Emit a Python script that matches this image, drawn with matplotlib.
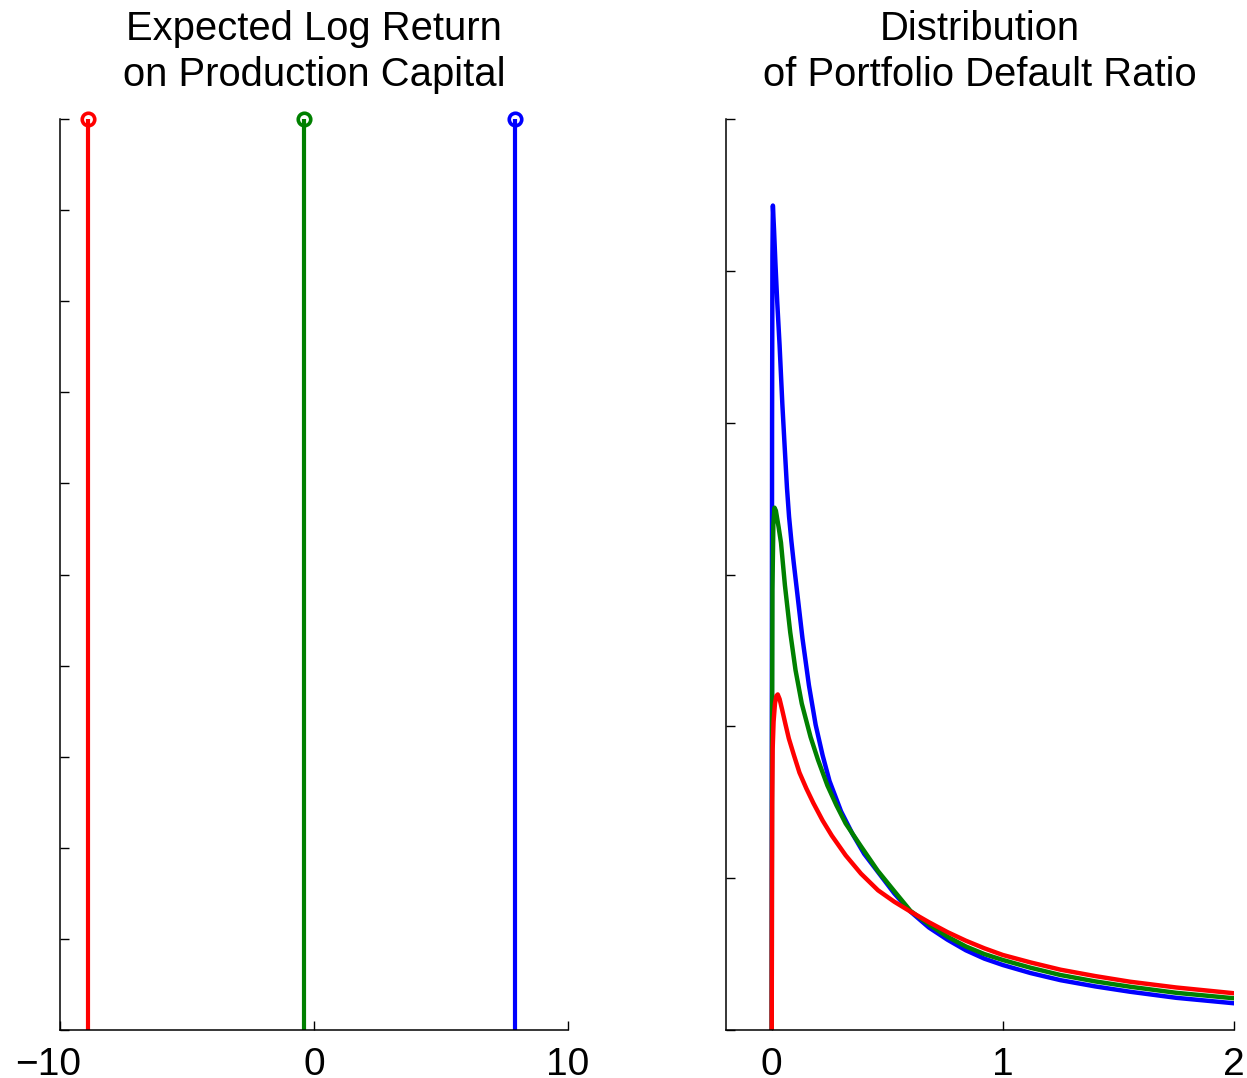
import matplotlib
matplotlib.use("Agg")
import matplotlib.pyplot as plt
from matplotlib.transforms import ScaledTranslation

plt.rcParams['font.family'] = ['Liberation Sans', 'DejaVu Sans']

# Left panel: expected log return per scenario (stem positions)
stem_x = [-8.88, -0.40, 7.92]
stem_h = [1.0, 1.0, 1.0]
colors = ['#ff0000', '#008000', '#0000ff']

# Right panel: default-ratio densities for each scenario
red_x = [0.0, 0.001, 0.002, 0.004, 0.008, 0.014, 0.020, 0.026, 0.034, 0.045,
         0.060, 0.074, 0.096, 0.12, 0.15, 0.18, 0.22, 0.26, 0.32, 0.386,
         0.46, 0.53, 0.60, 0.68, 0.76, 0.84, 0.92, 1.00, 1.12, 1.25,
         1.40, 1.55, 1.75, 2.00]
red_y = [0.0, 1.0, 1.5, 1.85, 2.03, 2.15, 2.20, 2.21, 2.18, 2.11,
         2.01, 1.92, 1.81, 1.695, 1.59, 1.495, 1.38, 1.28, 1.15, 1.03,
         0.92, 0.845, 0.78, 0.71, 0.645, 0.588, 0.538, 0.494, 0.445, 0.397,
         0.355, 0.318, 0.28, 0.242]

green_x = [0.0, 0.001, 0.003, 0.007, 0.012, 0.018, 0.030, 0.040, 0.057, 0.080,
           0.103, 0.13, 0.168, 0.20, 0.241, 0.28, 0.32, 0.386, 0.458, 0.53,
           0.60, 0.68, 0.76, 0.84, 0.92, 1.00, 1.12, 1.25, 1.40, 1.55,
           1.75, 2.00]
green_y = [0.0, 1.5, 2.9, 3.33, 3.44, 3.42, 3.31, 3.21, 2.93, 2.62,
           2.37, 2.15, 1.93, 1.78, 1.61, 1.48, 1.36, 1.21, 1.05, 0.915,
           0.785, 0.695, 0.615, 0.55, 0.50, 0.461, 0.41, 0.362, 0.32, 0.285,
           0.245, 0.209]

blue_x = [0.0, 0.0005, 0.0015, 0.003, 0.005, 0.010, 0.016, 0.024, 0.034, 0.046,
          0.056, 0.066, 0.075, 0.085, 0.095, 0.111, 0.133, 0.161, 0.19, 0.22,
          0.25, 0.30, 0.35, 0.40, 0.46, 0.53, 0.60, 0.68, 0.76, 0.84,
          0.92, 1.00, 1.12, 1.25, 1.40, 1.55, 1.75, 2.00]
blue_y = [0.0, 2.0, 4.0, 5.1, 5.43, 5.27, 5.05, 4.79, 4.51, 4.12,
          3.84, 3.57, 3.38, 3.22, 3.08, 2.87, 2.58, 2.27, 2.01, 1.81,
          1.64, 1.44, 1.29, 1.16, 1.04, 0.90, 0.78, 0.675, 0.595, 0.525,
          0.47, 0.428, 0.375, 0.328, 0.287, 0.252, 0.212, 0.176]

left_xticks = [-10, 0, 10]
left_xticklabels = ['\u221210', '0', '10']
right_xticks = [0, 1, 2]
left_title = "Expected Log Return\non Production Capital"
right_title = "Distribution\nof Portfolio Default Ratio"

W, H = 1247, 1078
fig = plt.figure(figsize=(W / 100, H / 100), dpi=100)
ax1 = fig.add_axes([60 / W, 48 / H, 508 / W, 911 / H])
ax2 = fig.add_axes([725.5 / W, 48 / H, 508.5 / W, 911 / H])

FS = 28
TFS = 28.8

for ax in (ax1, ax2):
    for s in ('top', 'right'):
        ax.spines[s].set_visible(False)
    for s in ('left', 'bottom'):
        ax.spines[s].set_linewidth(1.1)
    ax.tick_params(direction='in', length=6.5, width=1.0, labelsize=FS, pad=12)

# stems with open circle heads
for x, h, c in zip(stem_x, stem_h, colors):
    ax1.vlines(x, 0, h, color=c, linewidth=3)
    ax1.plot([x], [h], 'o', mfc='none', mec=c, mew=2.6, ms=9, clip_on=False)
ax1.set_xlim(-10, 10)
ax1.set_ylim(0, 1)
ax1.set_xticks(left_xticks)
ax1.set_xticklabels(left_xticklabels)
ax1.set_yticks([i / 10 for i in range(11)])
ax1.set_yticklabels([])
ax1.set_title(left_title, fontsize=TFS, pad=24, linespacing=1.27)

# negative labels: centre the digits on the tick, minus hangs to the left
shift = ScaledTranslation(-11.4 / 100, 0, fig.dpi_scale_trans)
for lbl in ax1.get_xticklabels():
    if lbl.get_text().startswith('\u2212'):
        lbl.set_transform(lbl.get_transform() + shift)

for xs, ys, c in ((blue_x, blue_y, colors[2]), (green_x, green_y, colors[1]),
                  (red_x, red_y, colors[0])):
    ax2.plot(xs, ys, color=c, linewidth=3.2, solid_joinstyle='round')
ax2.set_xlim(-0.2, 2)
ax2.set_ylim(0, 6)
ax2.set_xticks(right_xticks)
ax2.set_yticks(range(7))
ax2.set_yticklabels([])
ax2.set_title(right_title, fontsize=TFS, pad=24, linespacing=1.27)

fig.savefig("out.png", dpi=100)
